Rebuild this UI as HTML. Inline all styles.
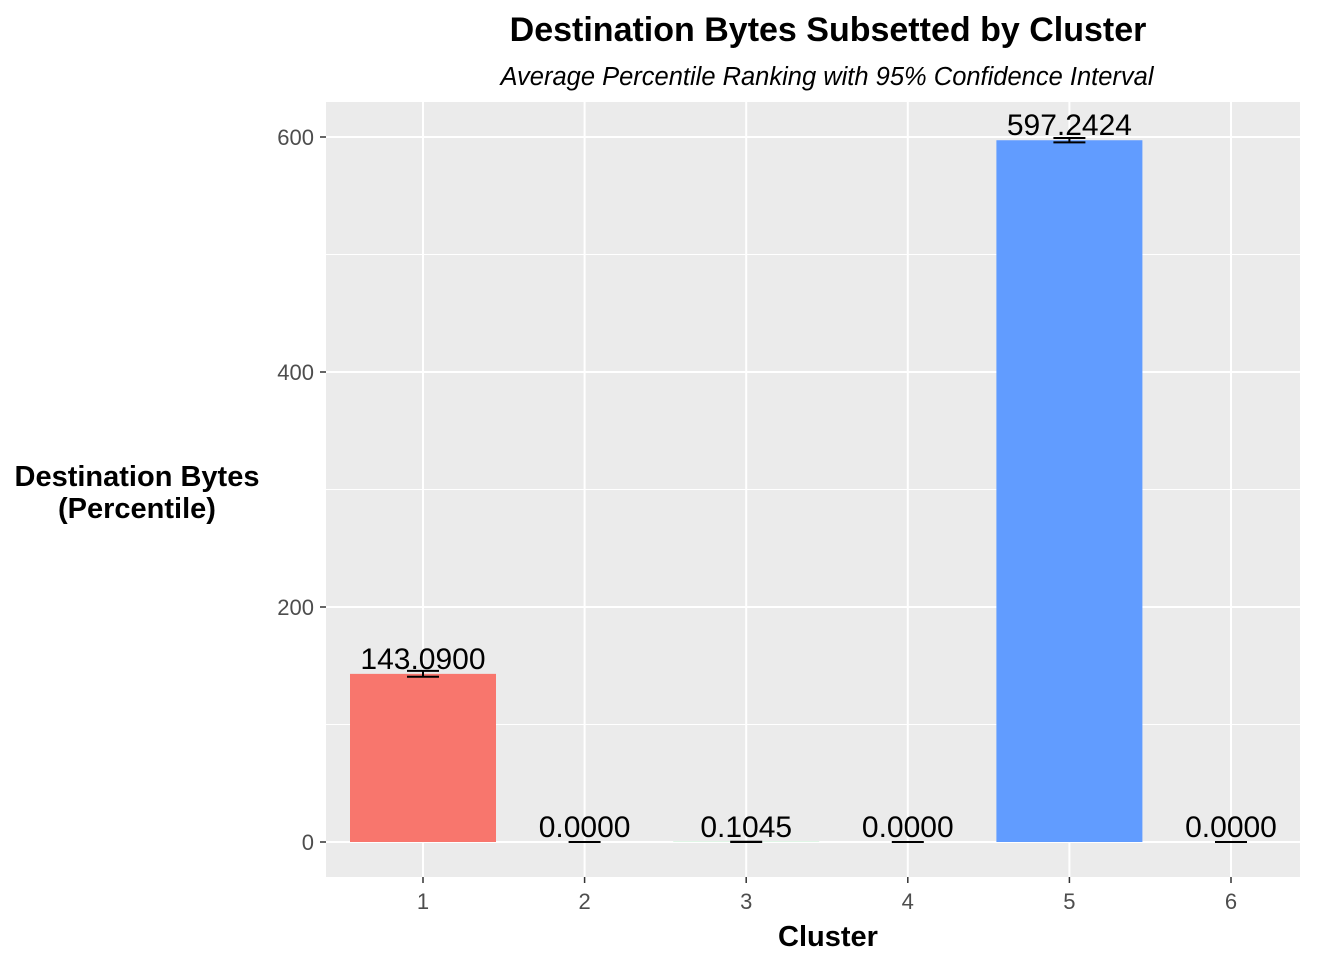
<!DOCTYPE html>
<html><head><meta charset="utf-8"><style>
body{margin:0;background:#fff;}
svg text{font-family:"Liberation Sans",Arial,sans-serif;}
</style></head><body>
<svg width="1344" height="960">
<text x="828" y="41" text-anchor="middle" font-size="34" font-weight="bold">Destination Bytes Subsetted by Cluster</text>
<text x="827" y="85" text-anchor="middle" font-size="25.5" font-style="italic">Average Percentile Ranking with 95% Confidence Interval</text>
<rect x="326" y="102" width="974" height="775" fill="#EBEBEB"/>
<g id="grid"></g><g id="bars"></g><g id="axes"></g>
<text x="137" y="486" text-anchor="middle" font-size="29" font-weight="bold"><tspan x="137">Destination Bytes</tspan><tspan x="137" dy="32">(Percentile)</tspan></text>
<text x="828" y="946" text-anchor="middle" font-size="29" font-weight="bold">Cluster</text>
</svg>
<script>
const categories=["1","2","3","4","5","6"];
const values=[143.09,0,0.1045,0,597.2424,0];
const lower=[140.6,0,0,0,595.4,0];
const upper=[145.6,0,0.2,0,599.1,0];
const labels=["143.0900","0.0000","0.1045","0.0000","597.2424","0.0000"];
const colors=["#F8766D","#B79F00","#00BA38","#00BFC4","#619CFF","#F564E3"];
const yTicks=[0,200,400,600];
const yMinor=[100,300,500];
const NS="http://www.w3.org/2000/svg";
const y=v=>842-v*(705/600);
const x=i=>423+i*161.6;
function mk(t,a,p){const e=document.createElementNS(NS,t);for(const k in a)e.setAttribute(k,a[k]);p.appendChild(e);return e;}
const g=document.getElementById('grid'),b=document.getElementById('bars'),ax=document.getElementById('axes');
yMinor.forEach(v=>{const l=mk('line',{x1:326,x2:1300,y1:y(v),y2:y(v),stroke:'#fff','stroke-width':1},g);

});
yTicks.forEach(v=>{const l=mk('line',{x1:326,x2:1300,y1:y(v),y2:y(v),stroke:'#fff','stroke-width':2},g);


mk('line',{x1:320,x2:326,y1:y(v),y2:y(v),stroke:'#333','stroke-width':1.5},ax);
const t=mk('text',{x:314,y:y(v)+8,'text-anchor':'end','font-size':22,fill:'#4D4D4D'},ax);t.textContent=v;

});
categories.forEach((c,i)=>{const l=mk('line',{x1:x(i),x2:x(i),y1:102,y2:877,stroke:'#fff','stroke-width':2},g);


mk('line',{x1:x(i),x2:x(i),y1:877,y2:883,stroke:'#333','stroke-width':1.5},ax);
const t=mk('text',{x:x(i),y:909,'text-anchor':'middle','font-size':22,fill:'#4D4D4D'},ax);t.textContent=c;


const r=mk('rect',{x:x(i)-73,y:y(values[i]),width:146,height:842-y(values[i]),fill:colors[i]},b);


const e=mk('path',{d:`M${x(i)-16},${y(upper[i])}H${x(i)+16}M${x(i)},${y(upper[i])}V${y(lower[i])}M${x(i)-16},${y(lower[i])}H${x(i)+16}`,stroke:'#000','stroke-width':2,fill:'none'},b);


const tl=mk('text',{x:x(i),y:y(values[i])-5,'text-anchor':'middle','font-size':30,fill:'#000'},b);tl.textContent=labels[i];

});
</script>
</body></html>
